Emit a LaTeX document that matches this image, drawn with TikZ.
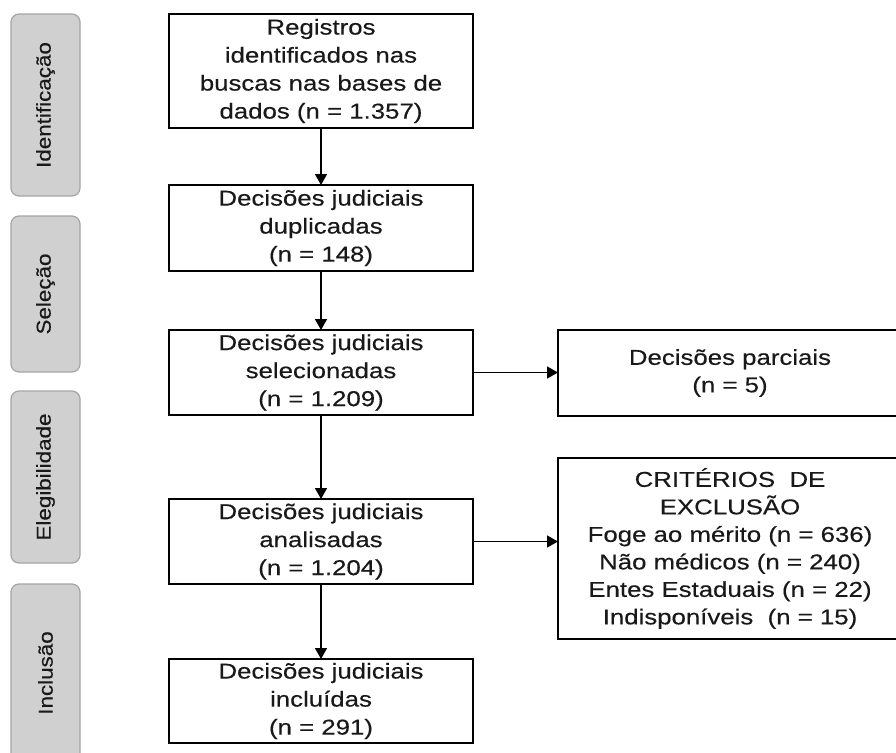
\documentclass[tikz,border=0pt]{standalone}
\usepackage{fontspec}
\setmainfont{Liberation Sans}[FakeStretch=1.2,FakeBold=0.3]
\newfontfamily\sidefont{Liberation Sans}[FakeStretch=1.12,FakeBold=0.3]
\usetikzlibrary{arrows.meta}
\definecolor{barfill}{RGB}{208,208,208}
\definecolor{barline}{RGB}{165,165,165}
\definecolor{txt}{RGB}{25,25,25}
\tikzset{
  mainbox/.style={draw=black, line width=1.6pt, fill=white, inner sep=0pt, outer sep=0pt,
    minimum width=304pt, align=center, text=txt, font=\fontsize{21.5}{28}\selectfont},
  sidebox/.style={draw=black, line width=1.6pt, fill=white, inner sep=0pt, outer sep=0pt,
    minimum width=344pt, align=center, text=txt, font=\fontsize{21.5}{27.5}\selectfont},
  phase/.style={draw=barline, line width=1.2pt, fill=barfill, rounded corners=8pt, rotate=90,
    minimum height=69pt, inner sep=0pt, text=txt, font=\sidefont\fontsize{20}{24}\selectfont},
  arr/.style={line width=1.6pt, -{Triangle[length=11pt,width=12pt]}}
}
\begin{document}
\begin{tikzpicture}[x=1pt,y=-1pt]
\useasboundingbox (0,0) rectangle (896,752);
\clip (0,0) rectangle (896,752);
\fill[white] (0,0) rectangle (896,752);
% phase bars
\node[phase, minimum width=182pt] (ph1) at (45.5,105) {Identificação};
\node[phase, minimum width=156pt] (ph2) at (45.5,294) {Seleção};
\node[phase, minimum width=172pt] (ph3) at (45.5,477) {Elegibilidade};
\node[phase, minimum width=178pt] (ph4) at (45.5,673) {Inclusão};
% main column
\node[mainbox, minimum height=114pt] (b1) at (321,71) {Registros\\identificados nas\\buscas nas bases de\\dados (n = 1.357)};
\node[mainbox, minimum height=86pt] (b2) at (321,228) {Decisões judiciais\\duplicadas\\(n = 148)};
\node[mainbox, minimum height=85pt] (b3) at (321,372.5) {Decisões judiciais\\selecionadas\\(n = 1.209)};
\node[mainbox, minimum height=85pt] (b4) at (321,541.5) {Decisões judiciais\\analisadas\\(n = 1.204)};
\node[mainbox, minimum height=84pt] (b5) at (321,701) {Decisões judiciais\\incluídas\\(n = 291)};
% right column
\node[sidebox, minimum height=86pt] (r1) at (730,373) {Decisões parciais\\(n = 5)};
\node[sidebox, minimum height=181pt] (r2) at (730,548.5) {CRITÉRIOS\ \ DE\\EXCLUSÃO\\Foge ao mérito (n = 636)\\Não médicos (n = 240)\\Entes Estaduais (n = 22)\\Indisponíveis\ \ (n = 15)};
% connectors
\draw[arr] (b1) -- (b2);
\draw[arr] (b2) -- (b3);
\draw[arr] (b3) -- (b4);
\draw[arr] (b4) -- (b5);
\draw[arr] (b3.east) -- (b3.east -| r1.west);
\draw[arr] (b4.east) -- (b4.east -| r2.west);
\end{tikzpicture}
\end{document}
